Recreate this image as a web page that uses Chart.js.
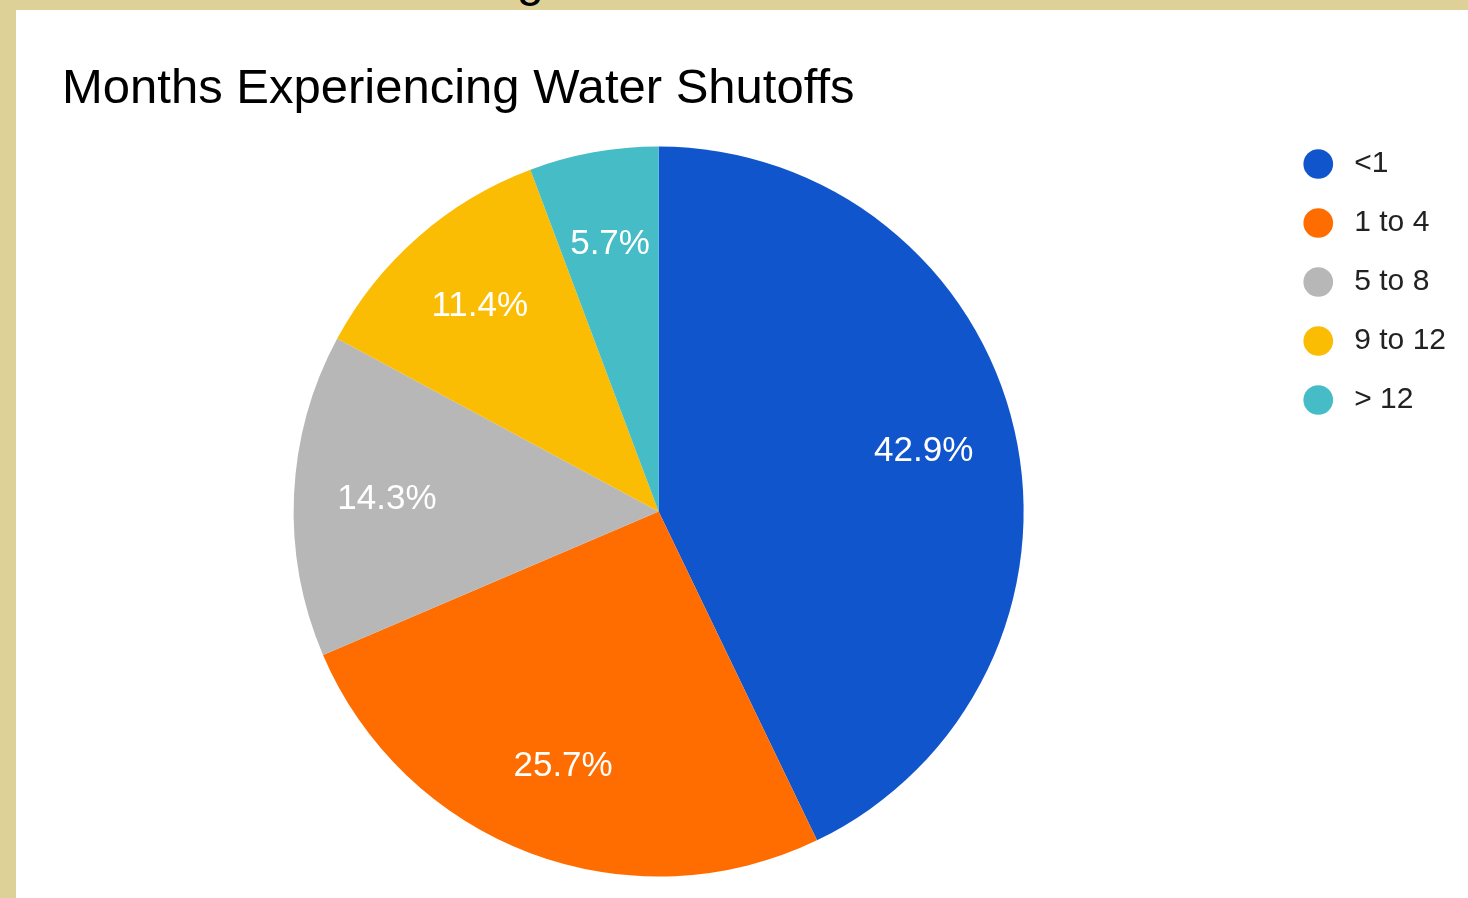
<!DOCTYPE html>
<html>
<head>
<meta charset="utf-8">
<script src="https://cdn.jsdelivr.net/npm/chart.js@4/dist/chart.umd.min.js"></script>
<style>
  html, body { margin: 0; padding: 0; width: 1468px; height: 898px; overflow: hidden; background: #ddd197; }
  #wrap { position: absolute; left: 16px; top: 10px; width: 1452px; height: 893px; background: #ffffff; }
  #frag { position: absolute; left: 517px; top: -48px; font: 48px "Liberation Sans", Arial, sans-serif; color: #000; line-height: normal; }
</style>
</head>
<body>
<span id="frag">g</span>
<div id="wrap"><canvas id="c" width="1452" height="893"></canvas></div>
<script>
const title = "Months Experiencing Water Shutoffs";
const categories = ["<1", "1 to 4", "5 to 8", "9 to 12", "> 12"];
const counts = [15, 9, 5, 4, 2];
const colors = ["#1155cc", "#ff6d01", "#b7b7b7", "#fbbc04", "#46bdc6"];

const FONT = '"Liberation Sans", Arial, sans-serif';

const titlePlugin = {
  id: 'sheetTitle',
  afterDraw(chart) {
    const ctx = chart.ctx;
    ctx.save();
    ctx.font = '49px ' + FONT;
    ctx.fillStyle = '#000000';
    ctx.textAlign = 'left';
    ctx.textBaseline = 'alphabetic';
    ctx.fillText(title, 46, 93);
    ctx.restore();
  }
};

const sliceLabels = {
  id: 'sliceLabels',
  afterDatasetsDraw(chart) {
    const ctx = chart.ctx;
    const meta = chart.getDatasetMeta(0);
    const data = chart.data.datasets[0].data;
    const total = data.reduce((a, b) => a + b, 0);
    ctx.save();
    ctx.font = '35px ' + FONT;
    ctx.fillStyle = '#ffffff';
    ctx.textAlign = 'center';
    ctx.textBaseline = 'middle';
    meta.data.forEach((arc, i) => {
      const p = arc.getProps(['x', 'y', 'startAngle', 'endAngle', 'outerRadius'], true);
      const mid = (p.startAngle + p.endAngle) / 2;
      const r = p.outerRadius * 0.745;
      const txt = (data[i] / total * 100).toFixed(1) + '%';
      ctx.fillText(txt, p.x + Math.cos(mid) * r, p.y + Math.sin(mid) * r);
    });
    ctx.restore();
  }
};

const baseGenerate = Chart.overrides.pie.plugins.legend.labels.generateLabels;

new Chart(document.getElementById('c'), {
  type: 'pie',
  data: {
    labels: categories,
    datasets: [{
      data: counts,
      backgroundColor: colors,
      borderWidth: 0,
      hoverOffset: 0
    }]
  },
  options: {
    responsive: false,
    devicePixelRatio: 1,
    animation: false,
    radius: 365,
    layout: { padding: { top: 110, left: 27, right: 12, bottom: 0 } },
    plugins: {
      title: { display: false },
      tooltip: { enabled: false },
      legend: {
        position: 'right',
        align: 'start',
        labels: {
          usePointStyle: true,
          pointStyle: 'circle',
          boxWidth: 30,
          boxHeight: 21,
          padding: 29,
          color: '#222222',
          font: { family: FONT, size: 30 },
          generateLabels(chart) {
            const items = baseGenerate(chart);
            items.forEach(it => { it.text = '\u2009' + it.text; });
            return items;
          }
        }
      }
    }
  },
  plugins: [titlePlugin, sliceLabels]
});
</script>
</body>
</html>
